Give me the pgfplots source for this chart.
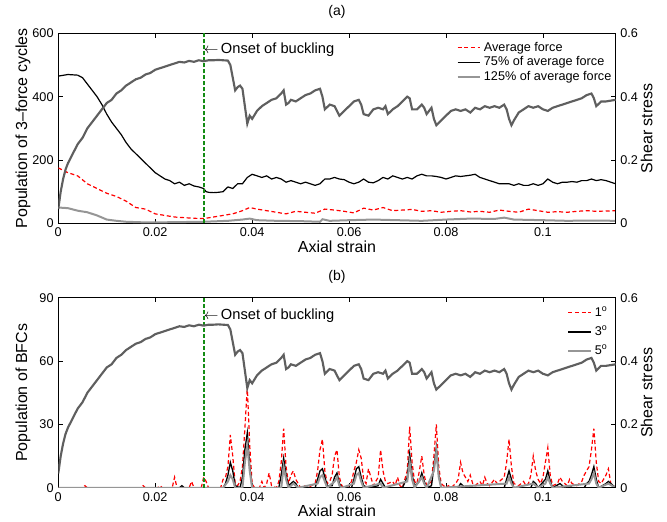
\documentclass[border=0pt]{standalone}
\usepackage{pgfplots}
\pgfplotsset{compat=1.18}
\usepackage{pgfplotstable}
\usepackage{fontspec}
\setmainfont{Liberation Sans}

\definecolor{shearcol}{RGB}{95,95,95}
\definecolor{lightcol}{RGB}{150,150,150}
\definecolor{onset}{RGB}{20,140,20}
\definecolor{avgred}{RGB}{255,0,0}

% shear stress (right axis), same curve in both panels
\pgfplotstableread{
x y
0 0.045
0.0005 0.10
0.001 0.14
0.0015 0.17
0.002 0.19
0.003 0.22
0.004 0.25
0.005 0.27
0.006 0.30
0.007 0.32
0.008 0.34
0.009 0.36
0.010 0.38
0.011 0.39
0.012 0.41
0.013 0.42
0.014 0.435
0.015 0.445
0.016 0.455
0.017 0.46
0.018 0.47
0.019 0.475
0.020 0.485
0.021 0.49
0.022 0.495
0.023 0.50
0.024 0.505
0.025 0.51
0.026 0.508
0.027 0.513
0.028 0.51
0.029 0.515
0.030 0.512
0.031 0.515
0.032 0.515
0.033 0.516
0.034 0.515
0.035 0.514
0.0355 0.50
0.036 0.46
0.0365 0.42
0.037 0.43
0.0375 0.435
0.038 0.425
0.0385 0.37
0.039 0.315
0.0395 0.34
0.040 0.33
0.041 0.355
0.042 0.37
0.043 0.38
0.044 0.39
0.045 0.395
0.046 0.41
0.0465 0.42
0.047 0.375
0.0475 0.38
0.048 0.39
0.049 0.385
0.050 0.395
0.051 0.405
0.052 0.41
0.053 0.42
0.054 0.425
0.0545 0.40
0.055 0.36
0.056 0.375
0.057 0.37
0.058 0.34
0.059 0.355
0.060 0.37
0.061 0.385
0.062 0.39
0.0625 0.375
0.063 0.345
0.064 0.34
0.065 0.36
0.066 0.365
0.067 0.36
0.0675 0.37
0.068 0.345
0.069 0.36
0.070 0.37
0.071 0.385
0.072 0.40
0.0725 0.395
0.073 0.36
0.074 0.36
0.075 0.375
0.0755 0.365
0.076 0.345
0.077 0.365
0.0775 0.33
0.078 0.31
0.079 0.325
0.080 0.34
0.081 0.355
0.082 0.36
0.083 0.355
0.084 0.36
0.085 0.35
0.086 0.365
0.087 0.36
0.088 0.37
0.089 0.365
0.090 0.37
0.091 0.365
0.092 0.375
0.0925 0.36
0.093 0.33
0.0935 0.31
0.094 0.325
0.095 0.35
0.096 0.36
0.097 0.37
0.098 0.365
0.099 0.37
0.100 0.36
0.101 0.355
0.102 0.365
0.103 0.37
0.104 0.375
0.105 0.38
0.106 0.385
0.107 0.39
0.108 0.395
0.109 0.405
0.110 0.41
0.1105 0.395
0.111 0.37
0.112 0.385
0.113 0.385
0.115 0.39
}\shear

\pgfplotsset{
  base/.style={
    width=418pt, height=142.5pt, scale only axis,
    xmin=0, xmax=0.115,
    tick align=inside, major tick length=3.5pt,
    axis line style={line width=0.7pt},
    every tick/.style={line width=0.7pt, black},
    /pgf/number format/assume math mode=true,
    tick label style={font=\fontsize{9.5}{11}\selectfont},
  },
  leftax/.style={
    base,
    xtick={0,0.02,0.04,0.06,0.08,0.1},
    xticklabels={0,0.02,0.04,0.06,0.08,0.1},
    xtick pos=both, ytick pos=left,
    xlabel={Axial strain},
    every axis x label/.style={at={(0.5,0)}, anchor=center, yshift=-17.5pt,
      font=\fontsize{12}{14}\selectfont},
    every axis y label/.style={at={(0,0.5)}, xshift=-26.5pt, anchor=center, rotate=90,
      font=\fontsize{12}{14}\selectfont},
    every axis title/.style={at={(0.5,1)}, anchor=center, yshift=16pt, inner sep=0pt,
      font=\fontsize{10.5}{12}\selectfont},
  },
  rightax/.style={
    base,
    axis x line=none, axis y line*=right,
    ymin=0, ymax=0.6,
    ytick={0,0.2,0.4,0.6}, yticklabels={0,0.2,0.4,0.6},
    ylabel={Shear stress},
    every axis y label/.style={at={(1,0.5)}, xshift=23.3pt, anchor=center, rotate=90,
      font=\fontsize{12}{14}\selectfont},
  },
  onsetline/.style={onset, line width=1.5pt, dash pattern=on 3pt off 1.5pt, forget plot},
  avgstyle/.style={avgred, line width=0.9pt, dash pattern=on 3pt off 2pt},
}

\begin{document}
\begin{tikzpicture}
% ---------------- panel (a)
\begin{axis}[leftax, at={(0,0)},
  ymin=0, ymax=600, ytick={0,200,400,600},
  ylabel={Population of 3\textendash force cycles},
  title={(a)},
  legend style={at={(1,1)}, anchor=north east, draw=none, fill=none,
    font=\fontsize{9.5}{11}\selectfont, row sep=-1.5pt, xshift=2pt, yshift=-2.5pt},
  legend cell align=left,
]
\addplot[avgstyle] coordinates {
(0,175) (0.002,160) (0.004,150) (0.006,125) (0.008,110) (0.010,95) (0.012,85)
(0.014,70) (0.016,50) (0.018,45) (0.020,30) (0.022,25) (0.024,20) (0.026,18)
(0.028,16) (0.030,15) (0.032,20) (0.034,25) (0.036,30) (0.038,40) (0.0395,50)
(0.041,45) (0.043,40) (0.045,35) (0.047,30) (0.049,38) (0.051,35) (0.053,32)
(0.055,45) (0.057,42) (0.059,38) (0.061,33) (0.063,48) (0.065,42) (0.067,50)
(0.069,40) (0.071,42) (0.073,44) (0.075,38) (0.077,40) (0.079,35) (0.081,38)
(0.083,40) (0.085,36) (0.087,38) (0.089,35) (0.091,42) (0.093,38) (0.095,35)
(0.097,45) (0.099,40) (0.101,35) (0.103,37) (0.105,35) (0.107,38) (0.109,40)
(0.111,38) (0.115,40)
};
\addlegendentry{Average force}
\addplot[black, line width=0.9pt] coordinates {
(0,465) (0.002,470) (0.004,468) (0.005,460) (0.006,440) (0.007,420) (0.008,400)
(0.009,375) (0.010,345) (0.011,320) (0.012,300) (0.013,280) (0.014,255)
(0.015,235) (0.016,220) (0.017,205) (0.018,190) (0.019,175) (0.020,160)
(0.021,150) (0.022,140) (0.023,135) (0.024,125) (0.025,130) (0.026,120)
(0.027,125) (0.028,118) (0.029,115) (0.030,110) (0.0305,100) (0.031,98)
(0.032,97) (0.033,98) (0.034,100) (0.035,115) (0.036,110) (0.037,125)
(0.038,125) (0.039,145) (0.040,155) (0.041,150) (0.042,145) (0.043,150)
(0.044,140) (0.045,145) (0.046,140) (0.047,130) (0.048,135) (0.049,130)
(0.050,125) (0.051,130) (0.052,125) (0.053,120) (0.054,125) (0.055,140)
(0.056,140) (0.057,145) (0.058,140) (0.059,138) (0.060,130) (0.061,125)
(0.062,130) (0.063,140) (0.064,130) (0.065,128) (0.066,135) (0.067,145)
(0.068,140) (0.069,150) (0.070,145) (0.071,140) (0.072,145) (0.073,140)
(0.074,150) (0.075,155) (0.076,150) (0.077,150) (0.078,148) (0.079,145)
(0.080,140) (0.081,145) (0.082,150) (0.083,148) (0.084,150) (0.085,152)
(0.086,155) (0.087,145) (0.088,140) (0.089,135) (0.090,130) (0.091,125)
(0.092,125) (0.093,125) (0.094,120) (0.095,125) (0.096,120) (0.097,120)
(0.098,125) (0.099,120) (0.100,125) (0.101,140) (0.102,130) (0.103,125)
(0.104,130) (0.105,130) (0.106,132) (0.107,130) (0.108,135) (0.109,135)
(0.110,140) (0.111,135) (0.112,138) (0.113,135) (0.115,125)
};
\addlegendentry{75\% of average force}
\addplot[lightcol, line width=1.5pt] coordinates {
(0,50) (0.002,48) (0.004,40) (0.006,35) (0.008,25) (0.010,12) (0.012,8)
(0.014,5) (0.016,4) (0.018,3) (0.020,3) (0.025,4) (0.030,5) (0.035,8)
(0.038,12) (0.0395,15) (0.041,10) (0.045,8) (0.050,7) (0.054,5) (0.0545,13)
(0.056,8) (0.060,10) (0.065,12) (0.070,10) (0.075,8) (0.080,12) (0.085,15)
(0.090,14) (0.092,18) (0.094,12) (0.100,10) (0.105,8) (0.110,9) (0.115,8)
};
\addlegendentry{125\% of average force}
\addplot[onsetline] coordinates {(0.03,0) (0.03,600)};
\node[anchor=west, inner sep=0pt, font=\fontsize{11}{13}\selectfont]
  at (axis cs:0.03,549) {$\leftarrow$\,Onset of buckling};
\end{axis}
\begin{axis}[rightax, at={(0,0)}]
\addplot[shearcol, line width=1.6pt] table {\shear};
\end{axis}

% ---------------- panel (b)
\begin{axis}[leftax, at={(0,-198.3pt)},
  ymin=0, ymax=90, ytick={0,30,60,90},
  ylabel={Population of BFCs},
  title={(b)},
  legend style={at={(1,1)}, anchor=north east, draw=none, fill=none,
    font=\fontsize{9.5}{11}\selectfont, row sep=1.5pt, xshift=-1pt, yshift=-2.5pt},
  legend cell align=left,
]
\addplot[avgstyle] coordinates {
(0,0) (0.005,0) (0.0055,1) (0.006,0) (0.017,0) (0.0175,1) (0.018,0) (0.0205,0)
(0.021,1) (0.0215,0) (0.0235,0) (0.024,5) (0.0245,0) (0.027,0) (0.0275,3)
(0.028,0) (0.0295,0) (0.030,5) (0.0305,3) (0.031,0) (0.0335,0) (0.034,4)
(0.0345,5) (0.035,10) (0.0355,25) (0.036,15) (0.0365,2) (0.037,1) (0.0375,3)
(0.038,10) (0.0385,28) (0.039,48) (0.0395,20) (0.040,2) (0.0405,0) (0.0415,0)
(0.042,3) (0.0425,0) (0.043,2) (0.0435,7) (0.044,1) (0.045,0) (0.0455,3)
(0.046,12) (0.0465,28) (0.047,10) (0.0475,2) (0.048,6) (0.0485,8) (0.049,4)
(0.0495,2) (0.050,0) (0.051,1) (0.0515,0) (0.053,2) (0.0535,8) (0.054,18)
(0.0545,23) (0.055,8) (0.0555,2) (0.056,3) (0.0565,6) (0.057,15) (0.0575,18)
(0.058,5) (0.0585,1) (0.059,0) (0.060,1) (0.0605,3) (0.061,8) (0.0615,12)
(0.062,18) (0.0625,14) (0.063,4) (0.0635,2) (0.064,9) (0.0645,5) (0.065,1)
(0.066,5) (0.0665,18) (0.067,8) (0.0675,3) (0.068,2) (0.069,3) (0.0695,1)
(0.070,5) (0.0705,1) (0.071,0) (0.072,8) (0.0725,29) (0.073,12) (0.0735,3)
(0.074,2) (0.0745,8) (0.075,15) (0.0755,6) (0.076,1) (0.077,3) (0.0775,15)
(0.078,30) (0.0785,10) (0.079,2) (0.080,0) (0.0805,1) (0.081,0) (0.082,2)
(0.0825,4) (0.083,12) (0.0835,7) (0.084,5) (0.0845,3) (0.085,6) (0.0855,2)
(0.086,1) (0.087,3) (0.0875,1) (0.088,5) (0.0885,2) (0.089,1) (0.090,4)
(0.0905,2) (0.091,3) (0.092,5) (0.0925,12) (0.093,23) (0.0935,10) (0.094,2)
(0.095,1) (0.096,3) (0.0965,1) (0.097,2) (0.0975,6) (0.098,15) (0.0985,8)
(0.099,4) (0.0995,2) (0.100,5) (0.1005,12) (0.101,19) (0.1015,6) (0.102,1)
(0.103,2) (0.1035,5) (0.104,3) (0.105,1) (0.1055,4) (0.106,2) (0.107,1)
(0.108,3) (0.1085,6) (0.109,8) (0.1095,10) (0.110,18) (0.1105,28) (0.111,12)
(0.1115,3) (0.112,2) (0.113,6) (0.1135,9) (0.114,2) (0.115,0)
};
\addlegendentry{1\textsuperscript{o}}
\addplot[black, line width=1pt] coordinates {
(0,0) (0.025,0) (0.0255,1) (0.026,0) (0.034,0) (0.0345,2) (0.035,6)
(0.0355,12) (0.036,8) (0.0365,1) (0.0375,0) (0.038,5) (0.0385,18) (0.039,26)
(0.0395,10) (0.040,0) (0.0455,0) (0.046,6) (0.0465,14) (0.047,6) (0.0475,1)
(0.048,2) (0.0485,3) (0.049,2) (0.0495,0) (0.053,0) (0.0535,4) (0.054,8)
(0.0545,9) (0.055,5) (0.0555,1) (0.0565,1) (0.057,5) (0.0575,7) (0.058,2)
(0.0585,0) (0.0605,0) (0.061,4) (0.0615,9) (0.062,10) (0.0625,5) (0.063,1)
(0.064,0) (0.066,1) (0.0665,4) (0.067,2) (0.0675,0) (0.071,0) (0.072,5)
(0.0725,16) (0.073,6) (0.0735,1) (0.0745,3) (0.075,7) (0.0755,3) (0.076,0)
(0.077,1) (0.0775,10) (0.078,19) (0.0785,6) (0.079,0) (0.0825,0) (0.083,2)
(0.0835,1) (0.084,0) (0.085,1) (0.0855,0) (0.092,0) (0.0925,4) (0.093,8)
(0.0935,4) (0.094,0) (0.0975,0) (0.098,3) (0.0985,2) (0.099,0) (0.1005,4)
(0.101,8) (0.1015,3) (0.102,0) (0.1035,2) (0.104,1) (0.1045,0) (0.1055,1)
(0.106,0) (0.1085,0) (0.109,2) (0.1095,3) (0.110,6) (0.1105,10) (0.111,4)
(0.1115,0) (0.113,2) (0.1135,3) (0.115,0)
};
\addlegendentry{3\textsuperscript{o}}
\addplot[lightcol, line width=1.5pt] coordinates {
(0,0) (0.034,0) (0.035,3) (0.0355,6) (0.036,4) (0.0365,0) (0.038,0)
(0.0385,12) (0.039,20) (0.0395,8) (0.040,0) (0.046,0) (0.0465,10) (0.047,4)
(0.0475,0) (0.0485,2) (0.049,1) (0.0495,0) (0.0535,2) (0.054,5) (0.0545,6)
(0.055,3) (0.0555,0) (0.057,3) (0.0575,5) (0.058,1) (0.0585,0) (0.061,2)
(0.0615,6) (0.062,7) (0.0625,3) (0.063,0) (0.0665,2) (0.067,0) (0.072,3)
(0.0725,12) (0.073,4) (0.0735,0) (0.075,5) (0.0755,2) (0.076,0) (0.0775,8)
(0.078,17) (0.0785,5) (0.079,0) (0.0925,2) (0.093,5) (0.0935,2) (0.094,0)
(0.098,2) (0.0985,1) (0.099,0) (0.1005,2) (0.101,5) (0.1015,2) (0.102,0)
(0.1095,2) (0.110,4) (0.1105,7) (0.111,2) (0.1115,0) (0.1135,2) (0.115,0)
};
\addlegendentry{5\textsuperscript{o}}
\addplot[onsetline] coordinates {(0.03,0) (0.03,90)};
\node[anchor=west, inner sep=0pt, font=\fontsize{11}{13}\selectfont]
  at (axis cs:0.03,81.5) {$\leftarrow$\,Onset of buckling};
\end{axis}
\begin{axis}[rightax, at={(0,-198.3pt)}]
\addplot[shearcol, line width=1.6pt] table {\shear};
\end{axis}

\path (-43.7pt,-222.5pt) rectangle (456.5pt,167.5pt);
\end{tikzpicture}
\end{document}
